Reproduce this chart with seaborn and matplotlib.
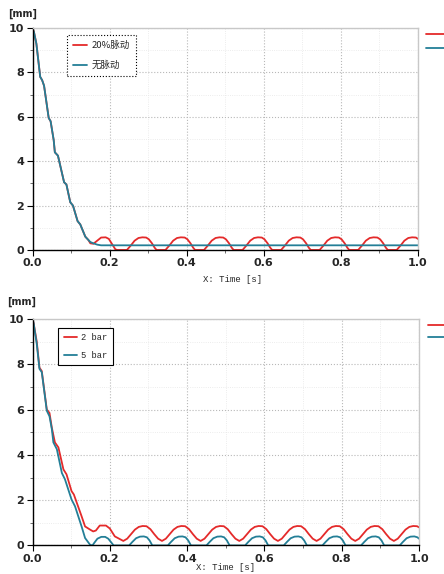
import matplotlib
matplotlib.use('Agg')
import matplotlib.pyplot as plt
from matplotlib.ticker import MultipleLocator
from matplotlib.lines import Line2D
import seaborn as sns
import pandas as pd

# ---------------- data ----------------
decay_t_top = [0.0, 0.004, 0.010, 0.020, 0.025, 0.030, 0.042, 0.047, 0.055, 0.058,
               0.066, 0.076, 0.082, 0.088, 0.098, 0.105, 0.117, 0.124, 0.137, 0.145]
decay_y_top = [10.0, 9.8, 9.3, 7.8, 7.65, 7.4, 5.95, 5.8, 4.95, 4.4,
               4.25, 3.5, 3.05, 2.95, 2.15, 2.0, 1.3, 1.15, 0.6, 0.45]

# top: 20% pulsation (red)
red_top_t = decay_t_top + [
    0.150, 0.158, 0.168, 0.178, 0.190, 0.198, 0.207, 0.215, 0.220,
    0.245, 0.255, 0.265, 0.275, 0.285, 0.295, 0.302, 0.310, 0.317, 0.322,
    0.345, 0.355, 0.365, 0.375, 0.385, 0.395, 0.402, 0.410, 0.417, 0.422,
    0.445, 0.455, 0.465, 0.475, 0.485, 0.495, 0.502, 0.510, 0.517, 0.522,
    0.545, 0.555, 0.565, 0.575, 0.585, 0.595, 0.602, 0.610, 0.617, 0.622,
    0.645, 0.655, 0.665, 0.675, 0.685, 0.695, 0.702, 0.710, 0.717, 0.722,
    0.745, 0.755, 0.765, 0.775, 0.785, 0.795, 0.802, 0.810, 0.817, 0.822,
    0.845, 0.855, 0.865, 0.875, 0.885, 0.895, 0.902, 0.910, 0.917, 0.922,
    0.945, 0.955, 0.965, 0.975, 0.985, 0.995, 1.000]
red_top_y = decay_y_top + [
    0.30, 0.28, 0.42, 0.56, 0.57, 0.50, 0.25, 0.03, 0.0,
    0.0, 0.2, 0.42, 0.54, 0.57, 0.56, 0.48, 0.3, 0.1, 0.0,
    0.0, 0.2, 0.42, 0.54, 0.57, 0.56, 0.48, 0.3, 0.1, 0.0,
    0.0, 0.2, 0.42, 0.54, 0.57, 0.56, 0.48, 0.3, 0.1, 0.0,
    0.0, 0.2, 0.42, 0.54, 0.57, 0.56, 0.48, 0.3, 0.1, 0.0,
    0.0, 0.2, 0.42, 0.54, 0.57, 0.56, 0.48, 0.3, 0.1, 0.0,
    0.0, 0.2, 0.42, 0.54, 0.57, 0.56, 0.48, 0.3, 0.1, 0.0,
    0.0, 0.2, 0.42, 0.54, 0.57, 0.56, 0.48, 0.3, 0.1, 0.0,
    0.0, 0.2, 0.42, 0.54, 0.57, 0.56, 0.50]

# top: no pulsation (teal)
teal_top_t = decay_t_top + [0.150, 0.158, 0.168, 0.178, 1.000]
teal_top_y = decay_y_top + [0.36, 0.30, 0.24, 0.21, 0.21]

# bottom: 2 bar (red)
red_bot_t = [0.0, 0.003, 0.011, 0.018, 0.024, 0.037, 0.044, 0.050, 0.058, 0.067,
             0.080, 0.088, 0.101, 0.107, 0.127, 0.136, 0.149, 0.157, 0.164, 0.174,
             0.190, 0.200, 0.213, 0.235,
             0.245, 0.255, 0.265, 0.275, 0.285, 0.295, 0.305, 0.315, 0.325, 0.335,
             0.345, 0.355, 0.365, 0.375, 0.385, 0.395, 0.405, 0.415, 0.425, 0.435,
             0.445, 0.455, 0.465, 0.475, 0.485, 0.495, 0.505, 0.515, 0.525, 0.535,
             0.545, 0.555, 0.565, 0.575, 0.585, 0.595, 0.605, 0.615, 0.625, 0.635,
             0.645, 0.655, 0.665, 0.675, 0.685, 0.695, 0.705, 0.715, 0.725, 0.735,
             0.745, 0.755, 0.765, 0.775, 0.785, 0.795, 0.805, 0.815, 0.825, 0.835,
             0.845, 0.855, 0.865, 0.875, 0.885, 0.895, 0.905, 0.915, 0.925, 0.935,
             0.945, 0.955, 0.965, 0.975, 0.985, 0.995, 1.000]
red_bot_y = [10.0, 9.8, 9.0, 7.85, 7.7, 6.0, 5.85, 5.2, 4.55, 4.33,
             3.36, 3.14, 2.4, 2.25, 1.29, 0.84, 0.7, 0.62, 0.66, 0.88,
             0.88, 0.75, 0.4, 0.2,
             0.3, 0.5, 0.7, 0.82, 0.86, 0.85, 0.72, 0.5, 0.3, 0.2,
             0.3, 0.5, 0.7, 0.82, 0.86, 0.85, 0.72, 0.5, 0.3, 0.2,
             0.3, 0.5, 0.7, 0.82, 0.86, 0.85, 0.72, 0.5, 0.3, 0.2,
             0.3, 0.5, 0.7, 0.82, 0.86, 0.85, 0.72, 0.5, 0.3, 0.2,
             0.3, 0.5, 0.7, 0.82, 0.86, 0.85, 0.72, 0.5, 0.3, 0.2,
             0.3, 0.5, 0.7, 0.82, 0.86, 0.85, 0.72, 0.5, 0.3, 0.2,
             0.3, 0.5, 0.7, 0.82, 0.86, 0.85, 0.72, 0.5, 0.3, 0.2,
             0.3, 0.5, 0.7, 0.82, 0.86, 0.85, 0.80]

# bottom: 5 bar (teal)
teal_bot_t = [0.0, 0.003, 0.011, 0.018, 0.024, 0.037, 0.044, 0.050, 0.054, 0.063,
              0.076, 0.084, 0.101, 0.110, 0.127, 0.136, 0.149, 0.155, 0.160, 0.168,
              0.178, 0.188, 0.196, 0.203, 0.210,
              0.250, 0.258, 0.268, 0.278, 0.288, 0.296, 0.303, 0.310,
              0.350, 0.358, 0.368, 0.378, 0.388, 0.396, 0.403, 0.410,
              0.450, 0.458, 0.468, 0.478, 0.488, 0.496, 0.503, 0.510,
              0.550, 0.558, 0.568, 0.578, 0.588, 0.596, 0.603, 0.610,
              0.650, 0.658, 0.668, 0.678, 0.688, 0.696, 0.703, 0.710,
              0.750, 0.758, 0.768, 0.778, 0.788, 0.796, 0.803, 0.810,
              0.850, 0.858, 0.868, 0.878, 0.888, 0.896, 0.903, 0.910,
              0.950, 0.958, 0.968, 0.978, 0.988, 0.996, 1.000]
teal_bot_y = [10.0, 9.8, 8.9, 7.8, 7.65, 5.95, 5.7, 5.14, 4.55, 4.25,
              3.2, 2.92, 2.03, 1.73, 0.84, 0.33, 0.03, 0.0, 0.12, 0.3,
              0.38, 0.38, 0.3, 0.15, 0.0,
              0.0, 0.15, 0.32, 0.39, 0.4, 0.36, 0.22, 0.0,
              0.0, 0.15, 0.32, 0.39, 0.4, 0.36, 0.22, 0.0,
              0.0, 0.15, 0.32, 0.39, 0.4, 0.36, 0.22, 0.0,
              0.0, 0.15, 0.32, 0.39, 0.4, 0.36, 0.22, 0.0,
              0.0, 0.15, 0.32, 0.39, 0.4, 0.36, 0.22, 0.0,
              0.0, 0.15, 0.32, 0.39, 0.4, 0.36, 0.22, 0.0,
              0.0, 0.15, 0.32, 0.39, 0.4, 0.36, 0.22, 0.0,
              0.0, 0.15, 0.32, 0.39, 0.4, 0.36, 0.30]

labels_top = ['20%脉动', '无脉动']
labels_bot = ['2 bar', '5 bar']
x_ticks = [0.0, 0.2, 0.4, 0.6, 0.8, 1.0]
x_ticklabels = ['0.0', '0.2', '0.4', '0.6', '0.8', '1.0']
y_ticks = [0, 2, 4, 6, 8, 10]
y_ticklabels = ['0', '2', '4', '6', '8', '10']

RED = '#e42a2a'
TEAL = '#237f97'

# ---------------- figure ----------------
sns.set_style('white')
plt.rcParams['font.family'] = ['DejaVu Sans', 'Noto Sans CJK SC']

fig = plt.figure(figsize=(4.44, 5.74), dpi=100)
ax1 = fig.add_axes([0.0732, 0.5645, 0.868, 0.3867])
ax2 = fig.add_axes([0.0732, 0.0497, 0.8705, 0.3946])


def style_axes(ax):
    ax.set_xlim(0, 1)
    ax.set_ylim(0, 10)
    ax.set_xticks(x_ticks)
    ax.set_xticklabels(x_ticklabels, fontweight='bold', fontsize=8)
    ax.set_yticks(y_ticks)
    ax.set_yticklabels(y_ticklabels, fontweight='bold', fontsize=8)
    ax.xaxis.set_minor_locator(MultipleLocator(0.1))
    ax.yaxis.set_minor_locator(MultipleLocator(1))
    ax.tick_params(axis='both', which='major', direction='out', length=4,
                   width=0.8, color='black', pad=2, left=True, bottom=True)
    ax.tick_params(axis='both', which='minor', direction='out', length=2,
                   width=0.6, color='#555555', left=True, bottom=True)
    ax.grid(True, which='major', linestyle=':', color='#b8b8b8', linewidth=0.8)
    ax.grid(True, which='minor', linestyle=':', color='#e6e6e6', linewidth=0.6)
    ax.set_axisbelow(True)
    for s in ['left', 'bottom']:
        ax.spines[s].set_color('black')
        ax.spines[s].set_linewidth(1.0)
    for s in ['top', 'right']:
        ax.spines[s].set_color('#c8c8c8')
        ax.spines[s].set_linewidth(1.0)
    ax.set_xlabel('')
    ax.set_ylabel('')


def draw(ax, tr, yr, tt, yt, labels, legfont, frame_ls, anchor, lspace,
         hlen, side_spacing):
    df_r = pd.DataFrame({'t': tr, 'y': yr})
    df_t = pd.DataFrame({'t': tt, 'y': yt})
    sns.lineplot(data=df_r, x='t', y='y', color=RED, lw=1.3, ax=ax,
                 estimator=None, sort=False)
    sns.lineplot(data=df_t, x='t', y='y', color=TEAL, lw=1.3, ax=ax,
                 estimator=None, sort=False)
    style_axes(ax)
    h = [Line2D([], [], color=RED, lw=1.3), Line2D([], [], color=TEAL, lw=1.3)]
    leg = ax.legend(h, labels, loc='upper left', bbox_to_anchor=anchor,
                    frameon=True, fancybox=False, prop=legfont,
                    handlelength=hlen, handletextpad=0.5, labelspacing=lspace,
                    borderpad=0.6, borderaxespad=0)
    fr = leg.get_frame()
    fr.set_edgecolor('black')
    fr.set_linewidth(0.8)
    fr.set_linestyle(frame_ls)
    fr.set_facecolor('white')
    fr.set_alpha(1)
    ax.add_artist(leg)
    # cut-off legend at the right edge
    ax.legend(h, ['', ''], loc='upper left', bbox_to_anchor=(1.022, 0.99),
              frameon=False, handlelength=2.5, labelspacing=side_spacing,
              borderpad=0, borderaxespad=0, prop={'size': 6})


draw(ax1, red_top_t, red_top_y, teal_top_t, teal_top_y, labels_top,
     {'family': ['Noto Sans CJK SC', 'DejaVu Sans'], 'size': 6.8}, ':',
     (0.09, 0.968), 1.1, 1.5, 0.55)
draw(ax2, red_bot_t, red_bot_y, teal_bot_t, teal_bot_y, labels_bot,
     {'family': 'Liberation Mono', 'size': 6.3}, '-',
     (0.067, 0.96), 1.0, 1.5, 0.3)

fig.text(8 / 444, 1 - 14 / 574, '[mm]', fontsize=7, fontweight='bold',
         ha='left', va='center')
fig.text(7 / 444, 1 - 302 / 574, '[mm]', fontsize=7, fontweight='bold',
         ha='left', va='center')
fig.text(233 / 444, 1 - 279 / 574, 'X: Time [s]', fontsize=6.5,
         family='Liberation Mono', ha='center', va='center')
fig.text(226 / 444, 1 - 568 / 574, 'X: Time [s]', fontsize=6.5,
         family='Liberation Mono', ha='center', va='center')

fig.savefig('out.png', dpi=100)
